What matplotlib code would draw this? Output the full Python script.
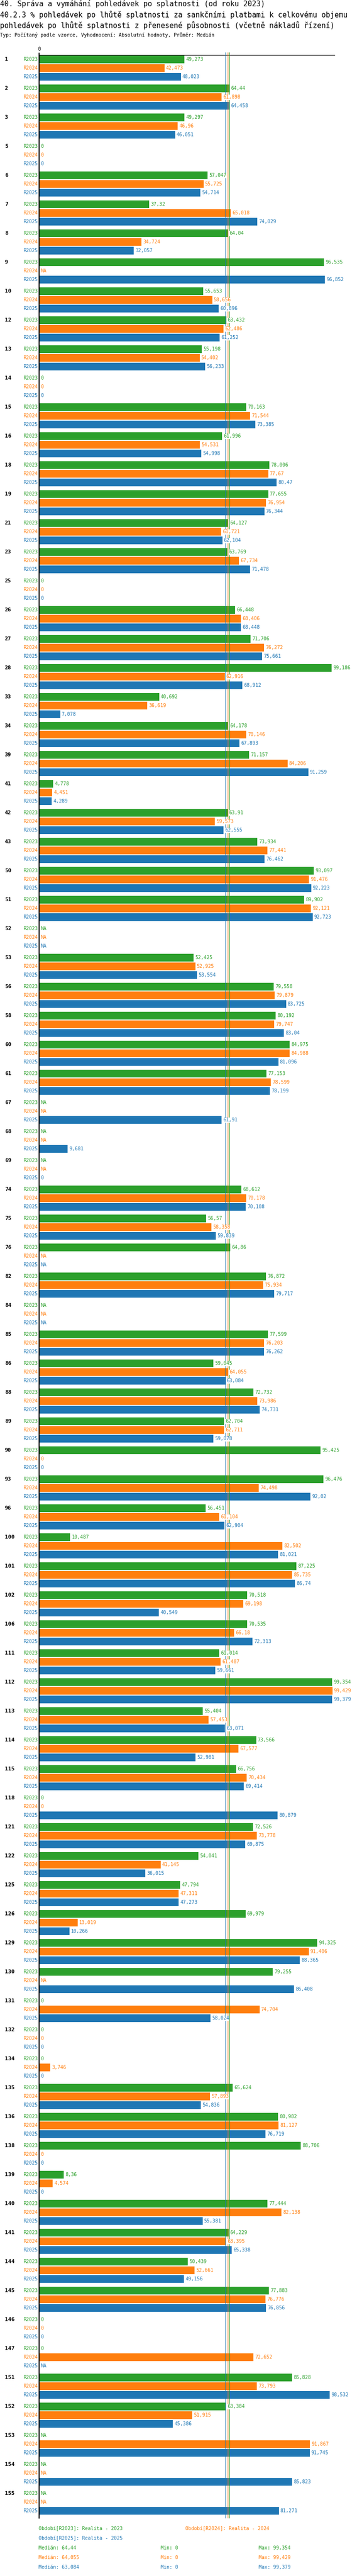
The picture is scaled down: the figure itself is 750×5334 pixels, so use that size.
import numpy as np
import matplotlib
matplotlib.use('Agg')
import matplotlib.pyplot as plt

NA = np.nan

groups = ['1', '2', '3', '5', '6', '7', '8', '9', '10', '12', '13', '14', '15', '16', '18', '19',
          '21', '23', '25', '26', '27', '28', '33', '34', '39', '41', '42', '43', '50', '51', '52',
          '53', '56', '58', '60', '61', '67', '68', '69', '74', '75', '76', '82', '84', '85', '86',
          '88', '89', '90', '93', '96', '100', '101', '102', '106', '111', '112', '113', '114',
          '115', '118', '121', '122', '125', '126', '129', '130', '131', '132', '134', '135',
          '136', '138', '139', '140', '141', '144', '145', '146', '147', '151', '152', '153',
          '154', '155']

r2023 = [49.273, 64.44, 49.297, 0, 57.047, 37.32, 64.04, 96.535, 55.653, 63.432, 55.198, 0,
         70.163, 61.996, 78.006, 77.655, 64.127, 63.769, 0, 66.448, 71.706, 99.186, 40.692,
         64.178, 71.157, 4.778, 63.91, 73.934, 93.097, 89.902, NA, 52.425, 79.558, 80.192,
         84.975, 77.153, NA, NA, NA, 68.612, 56.57, 64.86, 76.872, NA, 77.599, 59.045, 72.732,
         62.704, 95.425, 96.476, 56.451, 10.487, 87.225, 70.518, 70.535, 61.014, 99.354,
         55.404, 73.566, 66.756, 0, 72.526, 54.041, 47.794, 69.979, 94.325, 79.255, 0, 0, 0,
         65.624, 80.982, 88.706, 8.36, 77.444, 64.229, 50.439, 77.883, 0, 0, 85.828, 63.384,
         NA, NA, NA]

r2024 = [42.473, 61.898, 46.96, 0, 55.725, 65.018, 34.724, NA, 58.656, 62.486, 54.402, 0,
         71.544, 54.531, 77.67, 76.954, 61.721, 67.734, 0, 68.406, 76.272, 62.916, 36.619,
         70.146, 84.206, 4.451, 59.573, 77.441, 91.476, 92.121, NA, 52.925, 79.879, 79.747,
         84.988, 78.599, NA, NA, NA, 70.178, 58.358, NA, 75.934, NA, 76.203, 64.055, 73.986,
         62.711, 0, 74.498, 61.104, 82.502, 85.735, 69.198, 66.18, 61.487, 99.429, 57.453,
         67.577, 70.434, 0, 73.778, 41.145, 47.311, 13.019, 91.406, NA, 74.704, 0, 3.746,
         57.893, 81.127, 0, 4.574, 82.138, 63.395, 52.661, 76.776, 0, 72.652, 73.793, 51.915,
         91.867, NA, NA]

r2025 = [48.023, 64.458, 46.051, 0, 54.714, 74.029, 32.057, 96.852, 60.896, 61.252, 56.233, 0,
         73.385, 54.998, 80.47, 76.344, 62.104, 71.478, 0, 68.448, 75.661, 68.912, 7.078,
         67.893, 91.259, 4.289, 62.555, 76.462, 92.223, 92.723, NA, 53.554, 83.725, 83.04,
         81.096, 78.199, 61.91, 9.681, 0, 70.108, 59.839, NA, 79.717, NA, 76.262, 63.084,
         74.731, 59.078, 0, 92.02, 62.904, 81.021, 86.74, 40.549, 72.313, 59.661, 99.379,
         63.071, 52.981, 69.414, 80.879, 69.875, 36.015, 47.273, 10.266, 88.365, 86.408,
         58.024, 0, 0, 54.836, 76.719, 0, 0, 55.381, 65.338, 49.156, 76.856, 0, NA, 98.532,
         45.386, 91.745, 85.823, 81.271]

series_names = ['R2023', 'R2024', 'R2025']
series_colors = ['#2ca02c', '#ff7f0e', '#1f77b4']
period_labels = ['Období[R2023]: Realita - 2023', 'Období[R2024]: Realita - 2024',
                 'Období[R2025]: Realita - 2025']
medians = [64.44, 64.055, 63.084]
mins = [0, 0, 0]
maxs = [99.354, 99.429, 99.379]

title_lines = ['40. Správa a vymáhání pohledávek po splatnosti (od roku 2023)',
               '40.2.3 % pohledávek po lhůtě splatnosti za sankčními platbami k celkovému objemu',
               'pohledávek po lhůtě splatnosti z přenesené působnosti (včetně nákladů řízení)']
subtitle = 'Typ: Počítaný podle vzorce, Vyhodnocení: Absolutní hodnoty, Průměr: Medián'

plt.rcParams['font.family'] = ['DejaVu Sans Mono', 'DejaVu Sans']

W, H = 750, 5334
fig = plt.figure(figsize=(W / 100, H / 100), dpi=100)

AX_L, AX_R, AX_T, AX_B = 81.3, 693.4, 114.3, 5214
ax = fig.add_axes([AX_L / W, 1 - AX_B / H, (AX_R - AX_L) / W, (AX_B - AX_T) / H])
ax.set_xlim(0, 100.23)
ax.set_ylim(AX_B, AX_T)

FIRST = 123.3
GP = 60.0
RP = 18.0
BH = 16.0

def fmt(v):
    s = f"{v:.3f}".rstrip('0').rstrip('.')
    return s.replace('.', ',')

series = [r2023, r2024, r2025]
gidx = np.arange(len(groups))
FS = 7.2

for j, (vals, name, col) in enumerate(zip(series, series_names, series_colors)):
    arr = np.array(vals, dtype=float)
    ys = FIRST + gidx * GP + j * RP
    ax.barh(ys, np.nan_to_num(arr), height=BH, color=col, zorder=2, linewidth=0)
    for y, v in zip(ys, arr):
        txt = 'NA' if np.isnan(v) else fmt(v)
        xv = 0 if np.isnan(v) else v
        ax.annotate(txt, (xv, y), xytext=(2.3, 0), textcoords='offset points',
                    ha='left', va='center', fontsize=FS, color=col, zorder=5,
                    bbox=dict(facecolor='white', edgecolor='none', pad=0.2))
        ax.annotate(name, (0, y), xytext=(-2.0, 0), textcoords='offset points',
                    ha='right', va='center', fontsize=FS, color=col, annotation_clip=False)

for g, lab in enumerate(groups):
    ax.annotate(lab, (0, FIRST + g * GP), xytext=(-51.5, 0), textcoords='offset points',
                ha='left', va='center', fontsize=8, fontweight='bold', color='black',
                annotation_clip=False)

for m, col in zip(medians, series_colors):
    ax.vlines(m, 108.3, AX_B, color=col, linewidth=0.8, zorder=4, clip_on=False)

for s in ['right', 'bottom']:
    ax.spines[s].set_visible(False)
ax.spines['left'].set_linewidth(1.4)
ax.spines['top'].set_linewidth(1.0)
ax.xaxis.tick_top()
ax.set_xticks([0])
ax.set_xticklabels(['0'], fontsize=FS)
ax.tick_params(axis='x', length=3.6, width=1.4, pad=2.0, direction='out')
ax.set_yticks([])

def ftext(x, y, s, **kw):
    fig.text(x / W, 1 - y / H, s, va='center', ha='left', **kw)

ftext(0, 8.3, title_lines[0], fontsize=10.8, color='black')
ftext(0, 30.7, title_lines[1], fontsize=10.8, color='black')
ftext(0, 52.3, title_lines[2], fontsize=10.8, color='black')
ftext(0, 72.7, subtitle, fontsize=7.2, color='black')

ftext(80.3, 5236, period_labels[0], fontsize=FS, color=series_colors[0])
ftext(383.7, 5236, period_labels[1], fontsize=FS, color=series_colors[1])
ftext(80.3, 5256, period_labels[2], fontsize=FS, color=series_colors[2])
for k in range(3):
    yy = 5276 + 20 * k
    ftext(80.3, yy, 'Medián: ' + fmt(medians[k]), fontsize=FS, color=series_colors[k])
    ftext(333.4, yy, 'Min: ' + fmt(mins[k]), fontsize=FS, color=series_colors[k])
    ftext(535.7, yy, 'Max: ' + fmt(maxs[k]), fontsize=FS, color=series_colors[k])

fig.savefig('out.png', dpi=100)
